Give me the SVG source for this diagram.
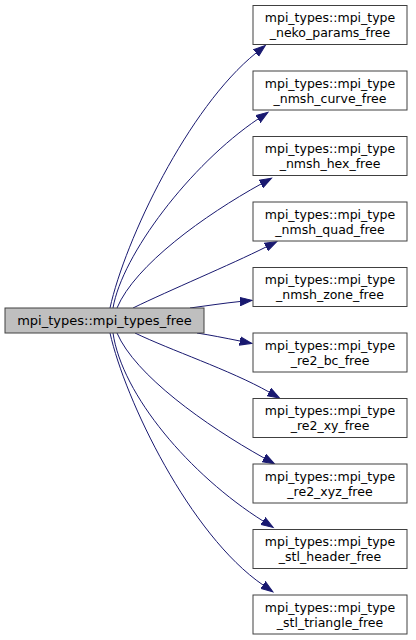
<svg xmlns="http://www.w3.org/2000/svg" width="416" height="640" viewBox="0 0 416 640">
<style>
.n rect{fill:#fff;stroke:#404040;stroke-width:1}
.m rect{fill:#bfbfbf;stroke:#404040;stroke-width:1}
text{font-family:"DejaVu Sans",sans-serif;font-size:12.5px;fill:#000;text-anchor:middle}
.m text{font-size:13px}
.e path{fill:none;stroke:#191970;stroke-width:1;marker-end:url(#a)}
</style>
<defs>
<marker id="a" markerUnits="userSpaceOnUse" markerWidth="14" markerHeight="10" refX="0" refY="0" orient="auto" viewBox="0 -5 14 10">
<path d="M0,-4.2 L12,0 L0,4.2 z" fill="#191970" stroke="#191970"/>
</marker>
</defs>
<rect width="416" height="640" fill="#fff"/>
<g class="e" id="edges">
<path d="M110,308 C125,240 188,108 256,53"/>
<path d="M113,308 C122,255 190,165 258,119"/>
<path d="M117,308 C135,265 205,215 261,184"/>
<path d="M133,308 C170,290 230,265 266,247"/>
<path d="M190,308 C205,306 225,303 240,301.5"/>
<path d="M197,333 C210,335 225,338 240,341"/>
<path d="M135,333 C170,350 230,370 269,392"/>
<path d="M117,333 C135,375 205,425 264,458"/>
<path d="M113,333 C122,395 190,475 263,521"/>
<path d="M110,333 C125,400 190,535 263,585"/>
</g>
<g class="m" id="main"><rect x="5" y="308" width="199" height="25"/><text x="104.5" y="325">mpi_types::mpi_types_free</text></g>
<g class="n" id="n1"><rect x="253" y="5.5" width="154" height="39"/><text x="330" y="22">mpi_types::mpi_type</text><text x="330" y="37">_neko_params_free</text></g>
<g class="n" id="n2"><rect x="253" y="71" width="154" height="39"/><text x="330" y="87.5">mpi_types::mpi_type</text><text x="330" y="102.5">_nmsh_curve_free</text></g>
<g class="n" id="n3"><rect x="253" y="136.5" width="154" height="39"/><text x="330" y="153">mpi_types::mpi_type</text><text x="330" y="168">_nmsh_hex_free</text></g>
<g class="n" id="n4"><rect x="253" y="202" width="154" height="39"/><text x="330" y="218.5">mpi_types::mpi_type</text><text x="330" y="233.5">_nmsh_quad_free</text></g>
<g class="n" id="n5"><rect x="253" y="267.5" width="154" height="39"/><text x="330" y="284">mpi_types::mpi_type</text><text x="330" y="299">_nmsh_zone_free</text></g>
<g class="n" id="n6"><rect x="253" y="333" width="154" height="39"/><text x="330" y="349.5">mpi_types::mpi_type</text><text x="330" y="364.5">_re2_bc_free</text></g>
<g class="n" id="n7"><rect x="253" y="398.5" width="154" height="39"/><text x="330" y="415">mpi_types::mpi_type</text><text x="330" y="430">_re2_xy_free</text></g>
<g class="n" id="n8"><rect x="253" y="464" width="154" height="39"/><text x="330" y="480.5">mpi_types::mpi_type</text><text x="330" y="495.5">_re2_xyz_free</text></g>
<g class="n" id="n9"><rect x="253" y="529.5" width="154" height="39"/><text x="330" y="546">mpi_types::mpi_type</text><text x="330" y="561">_stl_header_free</text></g>
<g class="n" id="n10"><rect x="253" y="595" width="154" height="39"/><text x="330" y="611.5">mpi_types::mpi_type</text><text x="330" y="626.5">_stl_triangle_free</text></g>
</svg>
